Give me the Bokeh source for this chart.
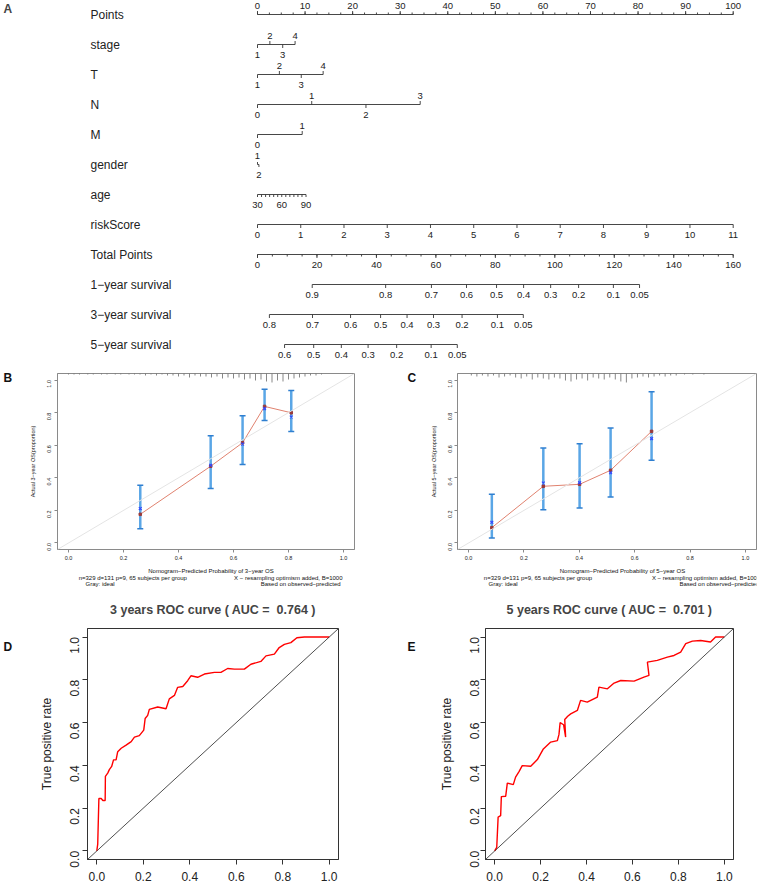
import math
from bokeh.plotting import figure
from bokeh.layouts import column, row
from bokeh.models import (Range1d, Label, Slope, Whisker, TeeHead, ColumnDataSource,
                          FixedTicker, NumeralTickFormatter)
from bokeh.embed import file_html
from bokeh.resources import INLINE
from bokeh.core.properties import value

FONT = "Liberation Sans"

# ---------------- Nomogram data (A) ----------------
row_names = ["Points", "stage", "T", "N", "M", "gender", "age", "riskScore",
             "Total Points", "1\u2212year survival", "3\u2212year survival", "5\u2212year survival"]

points_labels = [0, 10, 20, 30, 40, 50, 60, 70, 80, 90, 100]

stage_labels = ["1", "2", "3", "4"]
stage_points = [0, 2.6, 5.3, 7.9]
stage_sides = ["below", "above", "below", "above"]

t_labels = ["1", "2", "3", "4"]
t_points = [0, 4.6, 9.2, 13.8]
t_sides = ["below", "above", "below", "above"]

n_labels = ["0", "1", "2", "3"]
n_points = [0, 11.4, 22.8, 34.2]
n_sides = ["below", "above", "below", "above"]

m_labels = ["0", "1"]
m_points = [0, 9.4]
m_sides = ["below", "above"]

gender_labels = ["1", "2"]
gender_points = [0, 0.3]
gender_sides = ["above", "below"]

age_min, age_max = 30, 90
age_points_range = [0, 10.2]
age_labels = [30, 60, 90]

risk_labels = [0, 1, 2, 3, 4, 5, 6, 7, 8, 9, 10, 11]
risk_points_max = 100

total_labels = [0, 20, 40, 60, 80, 100, 120, 140, 160]
total_max = 160

surv1_labels = ["0.9", "0.8", "0.7", "0.6", "0.5", "0.4", "0.3", "0.2", "0.1", "0.05"]
surv1_total = [18.4, 43.1, 58.5, 70.3, 80.4, 89.5, 98.6, 108.0, 119.7, 128.5]
surv3_labels = ["0.8", "0.7", "0.6", "0.5", "0.4", "0.3", "0.2", "0.1", "0.05"]
surv3_total = [4.0, 18.5, 31.3, 41.4, 50.3, 59.2, 68.8, 80.7, 89.4]
surv5_labels = ["0.6", "0.5", "0.4", "0.3", "0.2", "0.1", "0.05"]
surv5_total = [9.1, 18.9, 28.2, 37.2, 46.8, 58.4, 67.2]

# ---------------- Calibration data (B, C) ----------------
cal3_pred = [0.261, 0.517, 0.633, 0.713, 0.810]
cal3_obs = [0.176, 0.471, 0.615, 0.838, 0.799]
cal3_corr = [0.211, 0.477, 0.607, 0.824, 0.773]
cal3_lo = [0.088, 0.334, 0.482, 0.752, 0.684]
cal3_hi = [0.355, 0.658, 0.781, 0.943, 0.936]
rug3_x = [0.00, 0.02, 0.04, 0.07, 0.09, 0.12, 0.14, 0.17, 0.19, 0.22, 0.24, 0.26, 0.28, 0.30,
          0.32, 0.34, 0.36, 0.38, 0.40, 0.42, 0.44, 0.46, 0.48, 0.50, 0.52, 0.54, 0.56, 0.58,
          0.60, 0.62, 0.64, 0.66, 0.68, 0.70, 0.72, 0.74, 0.76, 0.78, 0.80, 0.82, 0.84, 0.86,
          0.88, 0.90, 0.92]
rug3_h = [1, 1, 1, 1, 1, 1, 1, 1, 1, 1, 1, 1, 2, 1, 2, 1, 2, 2, 3, 2, 4, 2, 3, 3, 4, 3, 5, 4,
          5, 4, 6, 5, 7, 6, 8, 9, 7, 8, 6, 5, 4, 3, 2, 2, 1]

cal5_pred = [0.084, 0.270, 0.401, 0.513, 0.661]
cal5_obs = [0.094, 0.348, 0.360, 0.446, 0.685]
cal5_corr = [0.127, 0.368, 0.370, 0.431, 0.640]
cal5_lo = [0.031, 0.204, 0.215, 0.282, 0.507]
cal5_hi = [0.299, 0.583, 0.609, 0.706, 0.928]
rug5_x = [0.01, 0.03, 0.05, 0.07, 0.09, 0.11, 0.13, 0.15, 0.17, 0.19, 0.21, 0.23, 0.25, 0.27,
          0.29, 0.31, 0.33, 0.35, 0.37, 0.39, 0.41, 0.43, 0.45, 0.47, 0.49, 0.51, 0.53, 0.55,
          0.57, 0.59, 0.61, 0.63, 0.65, 0.67, 0.69, 0.71, 0.73, 0.75, 0.78, 0.81, 0.85]
rug5_h = [2, 3, 2, 3, 2, 4, 3, 2, 4, 5, 3, 6, 4, 5, 6, 4, 5, 7, 8, 6, 5, 7, 4, 5, 6, 4, 6, 8,
          9, 5, 4, 3, 4, 3, 2, 3, 2, 2, 1, 1, 1]

# ---------------- ROC data (D, E) ----------------
roc3_fpr = [0.000, 0.004, 0.009, 0.019, 0.026, 0.036, 0.037, 0.047, 0.054, 0.064,
            0.072, 0.083, 0.090, 0.105, 0.126, 0.148, 0.162, 0.183, 0.202, 0.208,
            0.219, 0.226, 0.262, 0.298, 0.312, 0.334, 0.348, 0.370, 0.391, 0.405,
            0.434, 0.463, 0.506, 0.534, 0.563, 0.592, 0.635, 0.663, 0.706, 0.728,
            0.764, 0.785, 0.807, 0.835, 0.861, 0.893, 0.936, 1.000]
roc3_tpr = [0.000, 0.032, 0.245, 0.245, 0.236, 0.236, 0.349, 0.364, 0.380, 0.395,
            0.426, 0.426, 0.464, 0.480, 0.495, 0.511, 0.532, 0.539, 0.565, 0.619,
            0.634, 0.662, 0.673, 0.665, 0.711, 0.727, 0.765, 0.769, 0.796, 0.819,
            0.812, 0.827, 0.835, 0.835, 0.853, 0.850, 0.850, 0.873, 0.886, 0.912,
            0.920, 0.951, 0.966, 0.974, 0.997, 1.000, 1.000, 1.000]
roc5_fpr = [0.000, 0.009, 0.015, 0.026, 0.029, 0.048, 0.055, 0.081, 0.091, 0.106,
            0.120, 0.157, 0.186, 0.212, 0.244, 0.273, 0.280, 0.285, 0.300, 0.309,
            0.305, 0.318, 0.331, 0.360, 0.374, 0.403, 0.447, 0.454, 0.491, 0.520,
            0.549, 0.607, 0.650, 0.672, 0.665, 0.708, 0.752, 0.781, 0.810, 0.832,
            0.861, 0.897, 0.940, 0.962, 1.000]
roc5_tpr = [0.000, 0.017, 0.158, 0.165, 0.254, 0.256, 0.317, 0.310, 0.345, 0.371,
            0.399, 0.396, 0.427, 0.477, 0.509, 0.516, 0.545, 0.600, 0.590, 0.532,
            0.615, 0.630, 0.641, 0.657, 0.704, 0.696, 0.719, 0.766, 0.758, 0.785,
            0.797, 0.794, 0.813, 0.821, 0.883, 0.891, 0.906, 0.914, 0.930, 0.969,
            0.981, 0.984, 0.977, 1.000, 1.000]

# =============== A: nomogram ===============
W, H_A = 758, 363
P0 = 257.0        # pixel of 0 points inside figure
PXPT = 4.757      # pixels per point
nomo = figure(width=W, height=H_A, output_backend="svg", toolbar_location=None,
              x_range=Range1d(-P0 / PXPT, (W - P0) / PXPT), y_range=Range1d(H_A, 0),
              x_axis_type=None, y_axis_type=None, min_border=0)
nomo.grid.visible = False
nomo.outline_line_color = None

ROW0, DY = 14, 30
sx0, sy0, sx1, sy1 = [], [], [], []
tx, ty, tt = [], [], []


def seg(a, b, c, d):
    sx0.append(a); sy0.append(b); sx1.append(c); sy1.append(d)


def nomo_axis(r, xs, labels, sides, minor=None, tick=3.5, minor_tick=2.0, up_off=9.0):
    y = ROW0 + DY * r
    seg(min(xs), y, max(xs), y)
    for x, lab, side in zip(xs, labels, sides):
        up = side == "above"
        seg(x, y, x, y - tick if up else y + tick)
        if lab is not None:
            tx.append(x); ty.append(y - up_off if up else y + 10); tt.append(str(lab))
    if minor:
        side = sides[0]
        for x in minor:
            seg(x, y, x, y - minor_tick if side == "above" else y + minor_tick)


tp2p = 100.0 / total_max
nomo_axis(0, points_labels, points_labels, ["above"] * len(points_labels),
          minor=[i * 2.5 for i in range(41)], up_off=8.5)
nomo_axis(1, stage_points, stage_labels, stage_sides)
nomo_axis(2, t_points, t_labels, t_sides)
nomo_axis(3, n_points, n_labels, n_sides)
nomo_axis(4, m_points, m_labels, m_sides)
nomo_axis(5, gender_points, gender_labels, gender_sides, tick=2.5)
age_scale = (age_points_range[1] - age_points_range[0]) / (age_max - age_min)
age_ticks = list(range(age_min, age_max + 1, 5))
nomo_axis(6, [(a - age_min) * age_scale for a in age_ticks],
          [a if a in age_labels else None for a in age_ticks], ["below"] * len(age_ticks), tick=2.5)
nomo_axis(7, [v * risk_points_max / risk_labels[-1] for v in risk_labels], risk_labels,
          ["below"] * len(risk_labels))
nomo_axis(8, [v * tp2p for v in total_labels], total_labels, ["below"] * len(total_labels),
          minor=[i * 5 * tp2p for i in range(33)])
nomo_axis(9, [v * tp2p for v in surv1_total], surv1_labels, ["below"] * len(surv1_labels))
nomo_axis(10, [v * tp2p for v in surv3_total], surv3_labels, ["below"] * len(surv3_labels))
nomo_axis(11, [v * tp2p for v in surv5_total], surv5_labels, ["below"] * len(surv5_labels))

nomo.segment(x0=sx0, y0=sy0, x1=sx1, y1=sy1, line_color="#333333", line_width=0.9)
nomo.text(x=tx, y=ty, text=tt, text_font=value(FONT), text_font_size="9.5px",
          text_align="center", text_baseline="middle", text_color="#222222")

name_x = (90 - P0) / PXPT
nomo.text(x=[name_x] * len(row_names), y=[ROW0 + DY * i for i in range(len(row_names))],
          text=row_names, text_font=value(FONT), text_font_size="12px",
          text_align="left", text_baseline="middle", text_color="#222222")
nomo.add_layout(Label(x=(3 - P0) / PXPT, y=8, text="A", text_font=FONT,
                      text_font_size="12px", text_font_style="bold", text_baseline="middle"))


# =============== helpers ===============
def text_panel(w, h):
    f = figure(width=w, height=h, x_range=Range1d(0, w), y_range=Range1d(h, 0),
               x_axis_type=None, y_axis_type=None, min_border=0,
               output_backend="svg", toolbar_location=None)
    f.outline_line_color = None
    f.grid.visible = False
    return f


def put_text(f, x, y, text, size, bold=False, align="center"):
    f.text(x=[x], y=[y], text=[text], text_font=value(FONT), text_font_size=size,
           text_font_style="bold" if bold else "normal", text_align=align,
           text_baseline="middle", text_color="#111111")


def style_axes(p, tick_font, label_font, tick_out, xstand, ystand, xlab_stand, ylab_stand, color):
    ticker = FixedTicker(ticks=[0, 0.2, 0.4, 0.6, 0.8, 1.0])
    for ax in (p.xaxis[0], p.yaxis[0]):
        ax.ticker = ticker
        ax.formatter = NumeralTickFormatter(format="0.0")
        ax.minor_tick_line_color = None
        ax.major_tick_in = 0
        ax.major_tick_out = tick_out
        ax.axis_line_color = color
        ax.major_tick_line_color = color
        ax.major_label_text_font = FONT
        ax.major_label_text_font_size = tick_font
        ax.major_label_text_color = "#222222"
        ax.axis_label_text_font = FONT
        ax.axis_label_text_font_size = label_font
        ax.axis_label_text_font_style = "normal"
        ax.axis_label_text_color = "#222222"
    p.xaxis.major_label_standoff = int(round(xstand))
    p.yaxis.major_label_standoff = int(round(ystand))
    p.xaxis.axis_label_standoff = int(round(xlab_stand))
    p.yaxis.axis_label_standoff = int(round(ylab_stand))
    p.yaxis.major_label_orientation = math.pi / 2


# =============== B, C: calibration ===============
CAL_H, NOTE_H = 201, 24


def calib_block(pred, obs, corr, lo, hi, rug_x, rug_h, xlabel, ylabel, width, left, right, ystand):
    p = figure(width=width, height=CAL_H, output_backend="svg", toolbar_location=None,
               x_range=Range1d(-0.04, 1.04), y_range=Range1d(-0.04, 1.04),
               min_border_left=left, min_border_right=right, min_border_top=10,
               min_border_bottom=15)
    p.grid.visible = False
    p.outline_line_color = "#8a8a8a"
    p.yaxis.axis_label = ylabel
    style_axes(p, "5.5px", "5.5px", 3, 3, ystand, 9, 7, "#8a8a8a")
    p.add_layout(Slope(gradient=1, y_intercept=0, line_color="#e4e4e4", line_width=1))
    unit = 1.0 / 163.0
    p.segment(x0=rug_x, y0=[1.04] * len(rug_x), x1=rug_x,
              y1=[1.04 - h * unit for h in rug_h], line_color="#555555", line_width=0.7)
    src = ColumnDataSource(dict(x=pred, lo=lo, hi=hi))
    p.add_layout(Whisker(source=src, base="x", lower="lo", upper="hi",
                         line_color="#5aa6e6", line_width=2.5,
                         upper_head=TeeHead(size=6, line_color="#2f7fd0", line_width=1.5),
                         lower_head=TeeHead(size=6, line_color="#2f7fd0", line_width=1.5)))
    p.line(pred, obs, line_color="#e0826f", line_width=1)
    p.scatter(pred, obs, marker="square", size=2.5, color="#9a3a3a")
    p.scatter(pred, corr, marker="x", size=4, line_color="#3348ff", line_width=1.2)

    fw = width - left - right
    notes = text_panel(width, NOTE_H)
    put_text(notes, left + fw / 2, 6.5, xlabel, "6px")
    put_text(notes, left + 54, 13, "n=329 d=131 p=9, 65 subjects per group", "6px")
    put_text(notes, left + 14.5, 19, "Gray: ideal", "6px")
    put_text(notes, left + fw - 55, 13, "X \u2212 resampling optimism added, B=1000", "6px")
    put_text(notes, left + fw - 40, 19, "Based on observed\u2212predicted", "6px")
    return column(p, notes, spacing=0)


stripB = text_panel(20, CAL_H + NOTE_H)
put_text(stripB, 3, 14, "B", "12px", bold=True, align="left")
calB = calib_block(cal3_pred, cal3_obs, cal3_corr, cal3_lo, cal3_hi, rug3_x, rug3_h,
                   "Nomogram\u2212Predicted Probability of 3\u2212year OS",
                   "Actual 3\u2212year OS(proportion)", 359, 37, 25, 5)
stripC = text_panel(41, CAL_H + NOTE_H)
put_text(stripC, 28, 14, "C", "12px", bold=True, align="left")
calC = calib_block(cal5_pred, cal5_obs, cal5_corr, cal5_lo, cal5_hi, rug5_x, rug5_h,
                   "Nomogram\u2212Predicted Probability of 5\u2212year OS",
                   "Actual 5\u2212year OS(proportion)", 338, 37, 2, 4)


# =============== D, E: ROC ===============
ROC_H = 308


def roc_fig(fpr, tpr, title, width, left, right, top, ystand):
    p = figure(width=width, height=ROC_H, output_backend="svg", toolbar_location=None,
               x_range=Range1d(-0.04, 1.04), y_range=Range1d(-0.04, 1.04),
               min_border_left=left, min_border_right=right, min_border_top=top,
               min_border_bottom=37, title=title)
    p.grid.visible = False
    p.outline_line_color = "#333333"
    p.yaxis.axis_label = "True positive rate"
    style_axes(p, "12px", "12px", 5, 7, ystand, 9, 9, "#333333")
    p.title.text_font = FONT
    p.title.text_font_size = "12.5px"
    p.title.text_font_style = "bold"
    p.title.align = "center"
    p.title.standoff = 24
    p.add_layout(Slope(gradient=1, y_intercept=0, line_color="#222222", line_width=0.8))
    p.line(fpr, tpr, line_color="#ff0000", line_width=1.4)
    return p


stripD = text_panel(20, ROC_H)
put_text(stripD, 3, 24.5, "D", "12px", bold=True, align="left")
rocD = roc_fig(roc3_fpr, roc3_tpr, "3 years ROC curve ( AUC =\u00a0 0.764 )", 359, 67, 41, 38, 8)
stripE = text_panel(41, ROC_H)
put_text(stripE, 28, 25, "E", "12px", bold=True, align="left")
rocE = roc_fig(roc5_fpr, roc5_tpr, "5 years ROC curve ( AUC =\u00a0 0.701 )", 338, 65, 25, 40, 6)

layout = column(nomo,
                row(stripB, calB, stripC, calC, spacing=0),
                row(stripD, rocD, stripE, rocE, spacing=0),
                spacing=0)
open("out.html", "w").write(file_html(layout, INLINE))
